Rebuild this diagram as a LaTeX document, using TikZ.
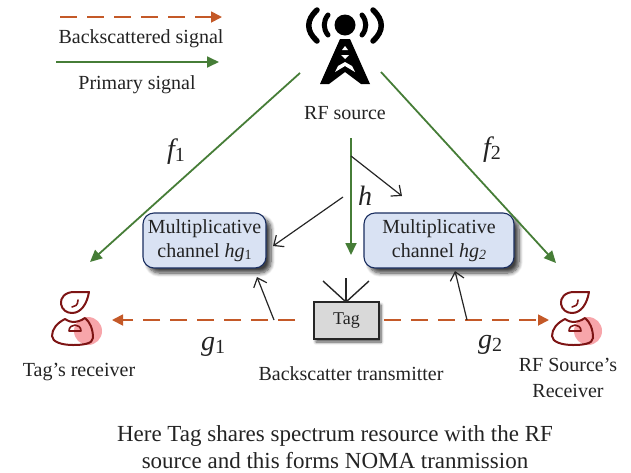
\documentclass[tikz,border=0pt]{standalone}
\usepackage{fontspec}
\setmainfont{Liberation Serif}
\usetikzlibrary{arrows.meta,shadows.blur,positioning}
\definecolor{sigred}{RGB}{196,89,40}
\definecolor{siggreen}{RGB}{70,125,55}
\definecolor{boxfill}{RGB}{217,226,243}
\definecolor{boxedge}{RGB}{25,45,95}
\definecolor{personred}{RGB}{125,20,20}
\definecolor{personpink}{RGB}{247,165,170}
\definecolor{tagfill}{RGB}{217,217,217}
\definecolor{txt}{RGB}{35,35,35}
\tikzset{
  backsig/.style={draw=sigred,line width=1.8pt,dash pattern=on 17pt off 10pt,-{Triangle[length=11pt,width=11pt]}},
  primsig/.style={draw=siggreen,line width=1.8pt,-{Triangle[length=12pt,width=11pt]}},
  blackarrow/.style={draw=black!85,line width=1.2pt,-{Straight Barb[length=8pt,width=14pt]}},
  lbl/.style={font=\fontsize{20}{24}\selectfont,text=txt,inner sep=0pt,align=center},
  chanbox/.style={draw=boxedge,fill=boxfill,line width=1.1pt,rounded corners=11pt,minimum height=55pt,
    inner sep=0pt,align=center,font=\fontsize{20}{24}\selectfont,text=txt,
    blur shadow={shadow xshift=5pt,shadow yshift=-5pt,shadow blur steps=8,shadow blur radius=4pt,shadow opacity=75}},
  tagbox/.style={draw=black!85,fill=tagfill,line width=1.8pt,minimum width=65pt,minimum height=37pt,
    inner sep=0pt,font=\fontsize{18}{22}\selectfont,text=txt,
    blur shadow={shadow xshift=2pt,shadow yshift=-3pt,shadow blur steps=6,shadow blur radius=3pt,shadow opacity=70}},
  mathlbl/.style={font=\fontsize{28}{30}\selectfont\itshape,text=txt,inner sep=0pt},
  person/.pic={
    \fill[personpink] (16,13) circle (14);
    \draw[personred,line width=2pt,line join=round]
      (17,-26) -- (2,-26) .. controls (-7,-26) and (-12,-20) .. (-11,-14)
      .. controls (-10,-8) and (-5,-5) .. (0,-5) .. controls (9,-5) and (15,-14) .. (17,-26) -- cycle;
    \draw[personred,line width=1.6pt,line cap=round] (6,-18) .. controls (6,-13) and (3,-11) .. (0,-11);
    \draw[personred,line width=2pt,line join=round,line cap=round]
      (-7,1) .. controls (-15,5) and (-20,11) .. (-20,18) .. controls (-20,24) and (-10,27) .. (1,27)
      .. controls (10,27) and (21,26) .. (21,20) .. controls (21,11) and (18,4) .. (13,0)
      (-7,1) .. controls (-4,3) and (-1,4) .. (1,4) .. controls (4,4) and (9,3) .. (13,0);
    \draw[personred,line width=1.6pt,line join=round]
      (-3,13) .. controls (-3,9) and (0,7) .. (3,7) .. controls (6,7) and (9,9) .. (9,13) -- cycle;
  }
}
\newcommand{\subn}[1]{\raisebox{-3pt}{\fontsize{20}{20}\selectfont\upshape #1}}
\begin{document}
\begin{tikzpicture}[x=1pt,y=-1pt]
\useasboundingbox (0,0) rectangle (631,472);
% tower
\fill[black] (345,25) circle (10.5);
\begin{scope}[line width=5pt,line cap=round,black]
\draw (328,15) .. controls (323,21) and (323,29) .. (328,35);
\draw (362,15) .. controls (367,21) and (367,29) .. (362,35);
\draw[line width=5.5pt] (317,10) .. controls (306,20) and (306,31) .. (317,41);
\draw[line width=5.5pt] (373,10) .. controls (384,20) and (384,31) .. (373,41);
\end{scope}
\fill[black] (340,39) -- (350,39) -- (370,84) -- (361,84) -- (345,72) -- (329,84) -- (320,84) -- cycle;
\fill[white] (345,46) -- (348,50) -- (342,50) -- cycle;
\fill[white] (341,55) -- (349,55) -- (345,59) -- cycle;
\fill[white] (345,62) -- (352,66) -- (355,72) -- (345,66) -- (335,72) -- (338,66) -- cycle;
\coordinate (towerL) at (300,73);
\coordinate (towerR) at (381,72);
\coordinate (towerD) at (351,138);
\coordinate (h1) at (351,156);
\coordinate (h2) at (402,196);
\coordinate (h3) at (343,197);
\coordinate (h4) at (273,246);
\coordinate (legA1) at (60,17);
\coordinate (legA2) at (222,17);
\coordinate (legB1) at (56,62);
\coordinate (legB2) at (219,62);
\coordinate (rxL) at (112,320);
\coordinate (rxR) at (549,320);
\coordinate (dashL) at (295,320);
\coordinate (dashR) at (384,320);
\coordinate (tapL) at (274,320);
\coordinate (tapR) at (467,320);
\coordinate (tapLe) at (257,277);
\coordinate (tapRe) at (455,271);
\coordinate (f1end) at (90,262);
\coordinate (f2end) at (556,263);
\coordinate (tagin) at (351,255);
% legend
\draw[backsig] (legA1) -- (legA2);
\draw[primsig] (legB1) -- (legB2);
\node[lbl] (legA) at (141,39) {Backscattered signal};
\node[lbl] (legB) at (137,85) {Primary signal};
\node[lbl] (rf) at (345,113) {RF source};
% boxes
\node[chanbox,minimum width=123pt] (c1) at (204.5,240.5) {Multiplicative\\channel \textit{hg}\raisebox{-2pt}{\fontsize{14}{14}\selectfont 1}};
\node[chanbox,minimum width=150pt] (c2) at (439,240.5) {Multiplicative\\channel \textit{hg}\raisebox{-2pt}{\fontsize{14}{14}\selectfont\itshape 2}};
\node[tagbox] (tag) at (346.5,320.5) {\raisebox{-3pt}{Tag}};
% antenna
\coordinate (antA) at (323,281);
\coordinate (antB) at (346,278);
\coordinate (antC) at (369,281);
\coordinate (antO) at (346,302);
\draw[black!85,line width=1.4pt] (antA) -- (antO) (antC) -- (antO);
\draw[black!85,line width=1.8pt] (antB) -- (antO);
% primary
\draw[primsig] (towerL) -- (f1end);
\draw[primsig] (towerR) -- (f2end);
\draw[primsig] (towerD) -- (tagin);
% h arrows
\draw[blackarrow] (h1) -- (h2);
\draw[blackarrow] (h3) -- (h4);
% persons
\pic (p1) at (72,318) {person};
\pic (p2) at (572,318) {person};
% backscatter
\draw[backsig] (dashL) -- (rxL);
\draw[backsig] (dashR) -- (rxR);
\draw[blackarrow] (tapL) -- (tapLe);
\draw[blackarrow] (tapR) -- (tapRe);
% labels
\node[mathlbl] (f1) at (176,152) {f\subn{1}};
\node[mathlbl] (f2) at (492,150) {f\subn{2}};
\node[mathlbl] (h) at (365,196) {h};
\node[mathlbl] (g1) at (213,347) {g\subn{1}};
\node[mathlbl] (g2) at (490,345) {g\subn{2}};
\node[lbl] (l1) at (79,372) {Tag’s receiver};
\node[lbl] (l2) at (351,374) {Backscatter transmitter};
\node[lbl,font=\fontsize{20}{26}\selectfont] (l3) at (568,378) {RF Source’s\\Receiver};
\node[lbl,font=\fontsize{23}{27}\selectfont] (cap) at (335,447) {Here Tag shares spectrum resource with the RF\\source and this forms NOMA tranmission};
\end{tikzpicture}
\end{document}
